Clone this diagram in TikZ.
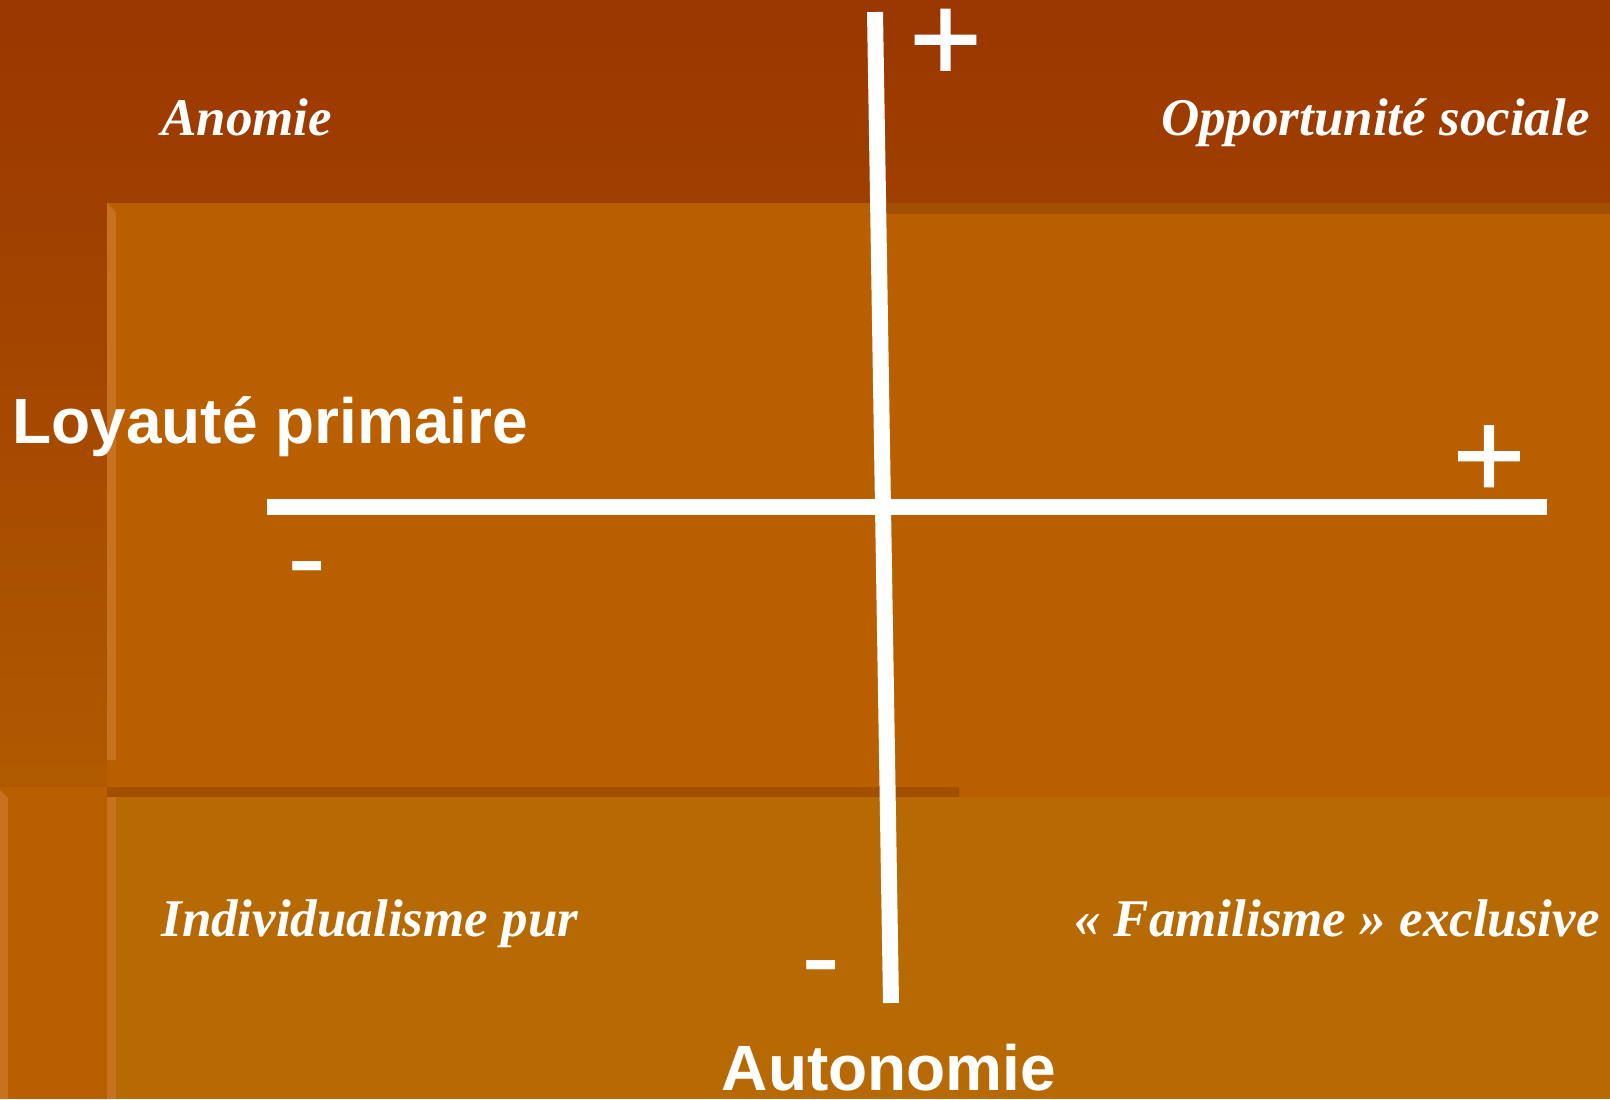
\documentclass[tikz,border=0pt]{standalone}
\usepackage{fontspec}
\setmainfont{Liberation Serif}
\newfontfamily\arialfont{Liberation Sans}
\newfontfamily\arialsemibold[FakeBold=1.2]{Liberation Sans}
\definecolor{bgtop}{HTML}{9A3600}
\definecolor{bgbot}{HTML}{B05A00}
\definecolor{panel}{HTML}{BA5F00}
\definecolor{lowpanel}{HTML}{B76A03}
\definecolor{bevel}{HTML}{C6721F}
\definecolor{shadowstrip}{HTML}{A34F00}
\begin{document}
\begin{tikzpicture}[x=0.5pt,y=-0.5pt,
  quad/.style={font=\fontsize{26.5}{30}\selectfont\bfseries\itshape, text=white, inner sep=0},
  axislabel/.style={font=\arialfont\fontsize{32}{38}\selectfont\bfseries, text=white, inner sep=0},
  plussign/.style={font=\arialsemibold\fontsize{62}{70}\selectfont, text=white, inner sep=0},
  minussign/.style={font=\arialfont\fontsize{59}{66}\selectfont, text=white, inner sep=0},
  axisline/.style={draw=white, line width=8pt}]
\useasboundingbox (0,0) rectangle (1610,1099);
% background
\shade[top color=bgtop, bottom color=bgbot] (0,0) rectangle (1610,797);
% left bottom panel
\fill[panel] (0,787) rectangle (107,1099);
\fill[bevel] (0,790) -- (8,798) -- (8,1099) -- (0,1099) -- cycle;
% middle panel
\fill[panel] (107,203) rectangle (1610,797);
\fill[bevel] (107,203) -- (116,212) -- (116,760) -- (107,760) -- cycle;
\fill[shadowstrip] (882,203) rectangle (1610,214);
\fill[shadowstrip] (107,787) rectangle (959,797);
% bottom panel
\fill[lowpanel] (107,797) rectangle (1610,1099);
\fill[bevel] (107,797) rectangle (116,1099);
% axes
\coordinate (vtop) at (875,12);
\coordinate (vbot) at (891,1003);
\coordinate (hleft) at (267,507);
\coordinate (hright) at (1547,507);
\draw[axisline] (hleft) -- (hright);
\draw[axisline] (vtop) -- (vbot);
% signs
\node[plussign, anchor=base] (plustop) at (945.5,81) {+};
\node[plussign, anchor=base] (plusright) at (1489,497.5) {+};
\node[minussign, anchor=base west] (minusleft) at (287,597) {-};
\node[minussign, anchor=base west] (minusbottom) at (801,996) {-};
% axis labels
\node[axislabel, anchor=base west] (loyaute) at (12,443) {Loyauté primaire};
\node[axislabel, anchor=base] (autonomie) at (889,1090) {Autonomie};
% quadrant labels
\node[quad, anchor=base west] (anomie) at (161,135) {Anomie};
\node[quad, anchor=base east] (opportunite) at (1590,135) {Opportunité sociale};
\node[quad, anchor=base west] (individualisme) at (161,936) {Individualisme pur};
\node[quad, anchor=base east] (familisme) at (1600,936) {« Familisme » exclusive};
\end{tikzpicture}
\end{document}
